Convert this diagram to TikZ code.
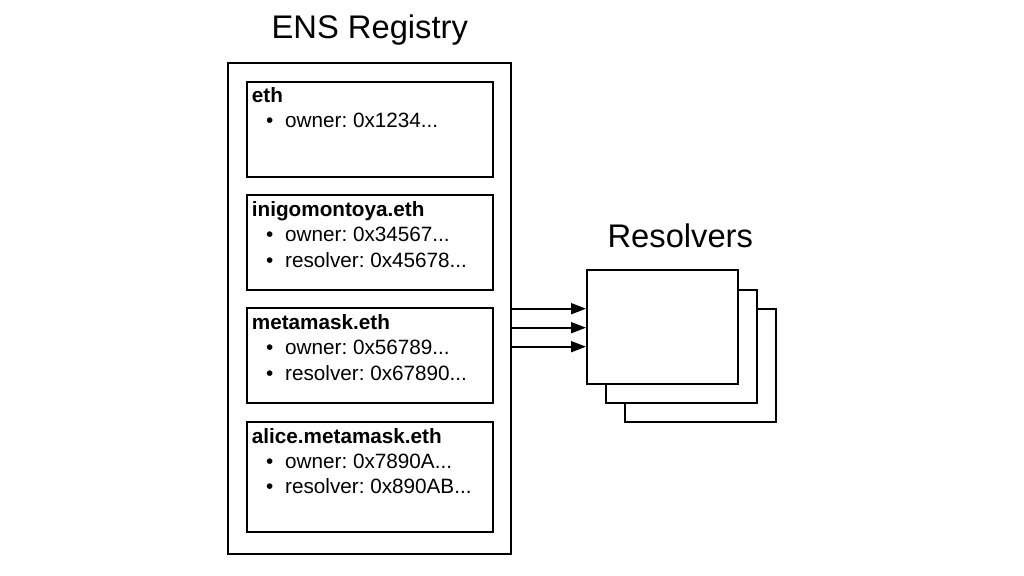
\documentclass[tikz,border=0pt]{standalone}
\usepackage{fontspec}
\setmainfont{Liberation Sans}
\usetikzlibrary{arrows.meta,calc}
\frenchspacing
\begin{document}
\begin{tikzpicture}[x=1pt,y=-1pt,
  frame/.style={draw=black,line width=2pt,fill=white,rectangle,inner sep=0pt,anchor=north west},
  entrybox/.style={draw=black,line width=2pt,fill=white,rectangle,inner sep=0pt,anchor=north west,minimum width=245.7pt},
  txt/.style={inner sep=0pt,anchor=base west,font=\fontsize{20.7}{24}\selectfont},
  bold/.style={inner sep=0pt,anchor=base west,font=\fontsize{20.7}{24}\selectfont\bfseries},
  heading/.style={inner sep=0pt,anchor=base,font=\fontsize{32.7}{39}\selectfont},
  arr/.style={line width=1.8pt,-{Triangle[length=15pt,width=11pt]}}]
\useasboundingbox (0,0) rectangle (1024,575);
\fill[white] (0,0) rectangle (1024,575);

% registry
\node[heading] (regtitle) at (369.8,38.3) {ENS Registry};
\node[frame,minimum width=283pt,minimum height=490.8pt] (registry) at (227,62.5) {};

\node[entrybox,minimum height=95pt] (eth) at (246,80.7) {};
\node[entrybox,minimum height=94.7pt] (inigo) at (246,194.3) {};
\node[entrybox,minimum height=94.4pt] (meta) at (246,307.3) {};
\node[entrybox,minimum height=110pt] (alice) at (246,421) {};

% eth
\node[bold] (ethT) at ($(eth.north west)+(5.7,22)$) {eth};
\node[txt] (ethB1) at ($(eth.north west)+(20,47)$) {•};
\node[txt] (ethL1) at ($(eth.north west)+(39,47)$) {owner: 0x1234...};
% inigo
\node[bold] (inigoT) at ($(inigo.north west)+(5.7,22)$) {inigomontoya.eth};
\node[txt] (inigoB1) at ($(inigo.north west)+(20,47)$) {•};
\node[txt] (inigoL1) at ($(inigo.north west)+(39,47)$) {owner: 0x34567...};
\node[txt] (inigoB2) at ($(inigo.north west)+(20,72.7)$) {•};
\node[txt] (inigoL2) at ($(inigo.north west)+(39,72.7)$) {resolver: 0x45678...};
% metamask
\node[bold] (metaT) at ($(meta.north west)+(5.7,22)$) {metamask.eth};
\node[txt] (metaB1) at ($(meta.north west)+(20,47)$) {•};
\node[txt] (metaL1) at ($(meta.north west)+(39,47)$) {owner: 0x56789...};
\node[txt] (metaB2) at ($(meta.north west)+(20,72.7)$) {•};
\node[txt] (metaL2) at ($(meta.north west)+(39,72.7)$) {resolver: 0x67890...};
% alice
\node[bold] (aliceT) at ($(alice.north west)+(5.7,22)$) {alice.metamask.eth};
\node[txt] (aliceB1) at ($(alice.north west)+(20,47)$) {•};
\node[txt] (aliceL1) at ($(alice.north west)+(39,47)$) {owner: 0x7890A...};
\node[txt] (aliceB2) at ($(alice.north west)+(20,72.7)$) {•};
\node[txt] (aliceL2) at ($(alice.north west)+(39,72.7)$) {resolver: 0x890AB...};

% resolvers
\node[heading] (restitle) at (680.3,247.7) {Resolvers};
\node[frame,minimum width=151pt,minimum height=113.3pt] (res3) at (624,307.7) {};
\node[frame,minimum width=151pt,minimum height=113.6pt] (res2) at (605,288.7) {};
\node[frame,minimum width=151.3pt,minimum height=114pt] (res1) at (586,269.3) {};

% arrows
\path (res1.west) ++(0,-18.6) coordinate (t1);
\path (res1.west) ++(0,0.4) coordinate (t2);
\path (res1.west) ++(0,19.4) coordinate (t3);
\draw[arr] (registry.east |- t1) -- (t1);
\draw[arr] (registry.east |- t2) -- (t2);
\draw[arr] (registry.east |- t3) -- (t3);
\end{tikzpicture}
\end{document}
